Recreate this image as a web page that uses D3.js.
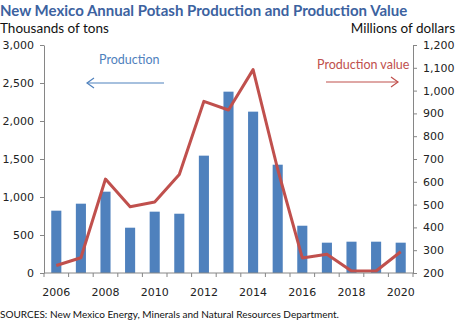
<!DOCTYPE html>
<html>
<head>
<meta charset="utf-8">
<script src="https://d3js.org/d3.v7.js"></script>
<style>
  body { margin: 0; background: #fff; }
  .tick text { font-family: "DejaVu Sans", sans-serif; font-size: 11px; fill: #222; }
  .domain, .tick line { stroke: #868686; }
</style>
</head>
<body>
<svg width="459" height="331"></svg>
<script>
// annual figures, 2006-2020
var years = [2006, 2007, 2008, 2009, 2010, 2011, 2012, 2013, 2014, 2015, 2016, 2017, 2018, 2019, 2020];
var production = [820, 912, 1070, 596, 807, 780, 1544, 2386, 2123, 1425, 622, 399, 412, 412, 399];
var prodValue = [233, 267, 612, 491, 511, 632, 953, 915, 1092, 655, 266, 282, 209, 209, 293];
var leftTicks = [0, 500, 1000, 1500, 2000, 2500, 3000];
var rightTicks = [200, 300, 400, 500, 600, 700, 800, 900, 1000, 1100, 1200];
var yearLabels = [2006, 2008, 2010, 2012, 2014, 2016, 2018, 2020];

var svg = d3.select("svg");
var plotLeft = 44, plotRight = 413, plotTop = 45, plotBottom = 273;

var x = d3.scaleBand().domain(years).range([plotLeft, plotRight]).paddingInner(0.59).paddingOuter(0.295);
var xb = d3.scaleBand().domain(years).range([plotLeft, plotRight]);
var yL = d3.scaleLinear().domain([0, 3000]).range([plotBottom, plotTop]);
var yR = d3.scaleLinear().domain([200, 1200]).range([plotBottom, plotTop]);

svg.append("text")
  .attr("x", 0).attr("y", 16)
  .attr("font-family", "Lato, sans-serif").attr("font-weight", "bold").attr("font-size", 15)
  .attr("fill", "#3c62a0")
  .text("New Mexico Annual Potash Production and Production Value");

svg.append("text")
  .attr("x", 0).attr("y", 33)
  .attr("font-family", "Lato, sans-serif").attr("font-size", 13.5).attr("fill", "#111")
  .text("Thousands of tons");

svg.append("text")
  .attr("x", 455).attr("y", 33).attr("text-anchor", "end")
  .attr("font-family", "Lato, sans-serif").attr("font-size", 13.5).attr("fill", "#111")
  .text("Millions of dollars");

// bars
svg.append("g").selectAll("rect")
  .data(years)
  .join("rect")
  .attr("x", (d) => x(d))
  .attr("width", x.bandwidth())
  .attr("y", (d, i) => yL(production[i]))
  .attr("height", (d, i) => plotBottom - yL(production[i]))
  .attr("fill", "#4f81bd");

// value line
var line = d3.line()
  .x((d, i) => xb(years[i]) + xb.bandwidth() / 2)
  .y((d) => yR(d));

svg.append("path")
  .datum(prodValue)
  .attr("d", line)
  .attr("fill", "none")
  .attr("stroke", "#c0504d")
  .attr("stroke-width", 3)
  .attr("stroke-linejoin", "round");

// axes
svg.append("g")
  .attr("transform", `translate(${plotLeft},0)`)
  .call(d3.axisLeft(yL).tickValues(leftTicks).tickSize(4).tickSizeOuter(0).tickPadding(6).tickFormat(d3.format(",")));

svg.append("g")
  .attr("transform", `translate(${plotRight},0)`)
  .call(d3.axisRight(yR).tickValues(rightTicks).tickSize(4).tickSizeOuter(0).tickPadding(6).tickFormat(d3.format(",")));

var xAxis = svg.append("g").attr("transform", `translate(0,${plotBottom})`);
xAxis.append("line").attr("x1", plotLeft).attr("x2", plotRight).attr("stroke", "#868686");
xAxis.selectAll(".xt")
  .data(years.concat([null]))
  .join("line")
  .attr("x1", (d, i) => i < years.length ? xb(d) : plotRight)
  .attr("x2", (d, i) => i < years.length ? xb(d) : plotRight)
  .attr("y1", 0).attr("y2", 4)
  .attr("stroke", "#868686");
xAxis.selectAll("text")
  .data(yearLabels)
  .join("text")
  .attr("x", (d) => xb(d) + xb.bandwidth() / 2)
  .attr("y", 23)
  .attr("text-anchor", "middle")
  .attr("font-family", "DejaVu Sans, sans-serif").attr("font-size", 11).attr("fill", "#222")
  .text((d) => d);

// series annotations
svg.append("text")
  .attr("x", 99).attr("y", 64)
  .attr("font-family", "Lato, sans-serif").attr("font-size", 12.5).attr("fill", "#4f81bd")
  .text("Production");
svg.append("line").attr("x1", 87).attr("x2", 164).attr("y1", 83).attr("y2", 83)
  .attr("stroke", "#4f81bd").attr("stroke-width", 1.2);
svg.append("path").attr("d", "M94,78L87,83L94,88")
  .attr("fill", "none").attr("stroke", "#4f81bd").attr("stroke-width", 1.2);

svg.append("text")
  .attr("x", 317).attr("y", 69)
  .attr("font-family", "Lato, sans-serif").attr("font-size", 12.5).attr("fill", "#c0504d")
  .text("Production value");
svg.append("line").attr("x1", 326).attr("x2", 398).attr("y1", 82).attr("y2", 82)
  .attr("stroke", "#c0504d").attr("stroke-width", 1.2);
svg.append("path").attr("d", "M391,77L398,82L391,87")
  .attr("fill", "none").attr("stroke", "#c0504d").attr("stroke-width", 1.2);

svg.append("text")
  .attr("x", 0).attr("y", 318)
  .attr("font-family", "Lato, sans-serif").attr("font-size", 10).attr("fill", "#111")
  .text("SOURCES: New Mexico Energy, Minerals and Natural Resources Department.");
</script>
</body>
</html>
